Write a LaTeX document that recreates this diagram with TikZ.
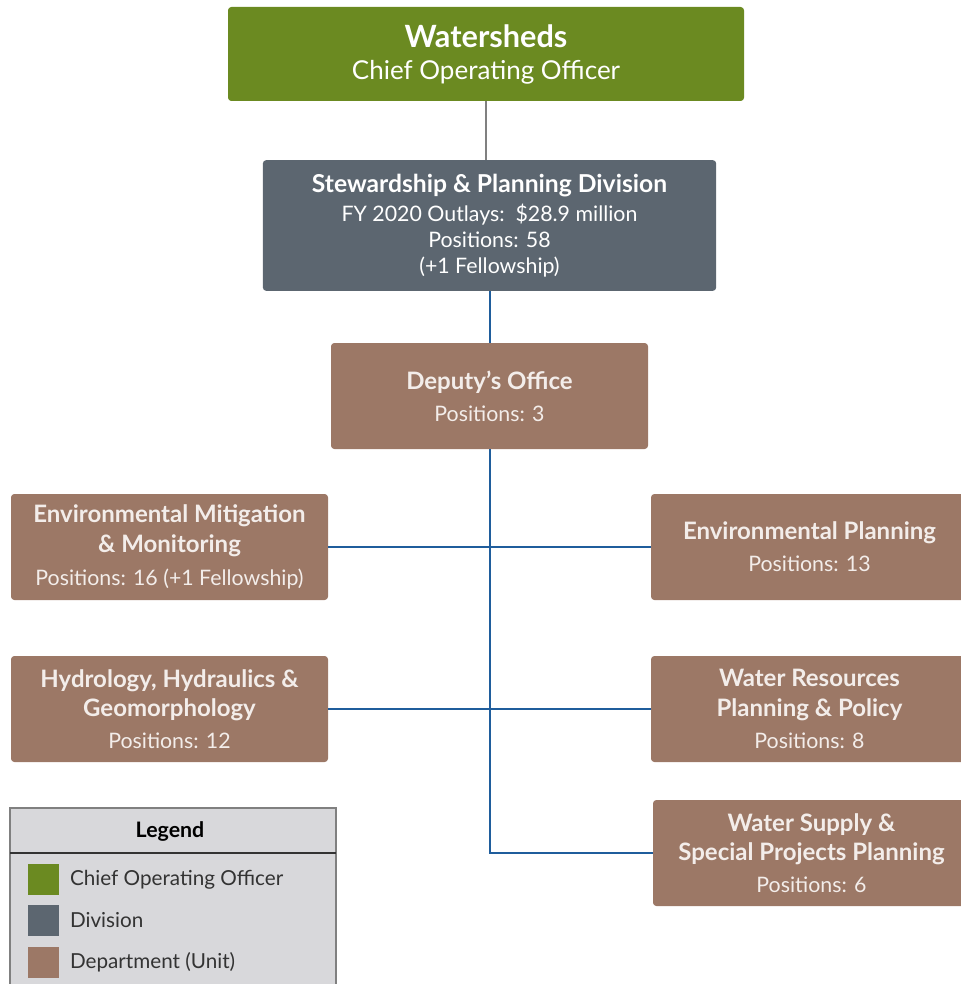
\documentclass[tikz,border=0pt]{standalone}
\usepackage{fontspec}
\setmainfont{Lato}
\usetikzlibrary{positioning}
\definecolor{cooGreen}{HTML}{6B8A21}
\definecolor{divGray}{HTML}{5C6670}
\definecolor{unitBrown}{HTML}{9C7866}
\definecolor{unitText}{HTML}{F3EDEA}
\definecolor{lineBlue}{HTML}{1F5D9C}
\definecolor{legendFill}{HTML}{D8D8DB}
\definecolor{legendText}{HTML}{333333}
\newcommand{\hd}[1]{{\bfseries\fontsize{18}{22}\selectfont #1}}
\tikzset{
  box/.style={rounded corners=2.5pt, align=center, inner sep=0pt,
    font=\fontsize{16}{22}\selectfont},
  coo/.style={box, fill=cooGreen, text=white, minimum width=387pt, minimum height=70.5pt,
    font=\fontsize{19.5}{24}\selectfont},
  division/.style={box, fill=divGray, text=white, minimum width=340pt, minimum height=98pt,
    font=\fontsize{16}{19.5}\selectfont},
  unit/.style={box, fill=unitBrown, text=unitText, minimum width=237.75pt, minimum height=79.5pt},
  link/.style={lineBlue, line width=1.5pt},
  swatch/.style={minimum size=23pt, inner sep=0pt},
  keytext/.style={anchor=west, inner sep=0pt, text=legendText, font=\fontsize{15.5}{18}\selectfont},
}

\begin{document}
\begin{tikzpicture}[x=0.75pt, y=-0.75pt]
    \useasboundingbox (0,0) rectangle (960,984);
    % top of the tree
    \node[coo] (coo) at (486,54)
        {{\bfseries\fontsize{23}{24}\selectfont Watersheds}\\Chief Operating Officer};
    \node[division] (div) at (489.5,225.5)
        {{\bfseries\fontsize{18.5}{22}\selectfont Stewardship \& Planning Division}\\[2pt]
         FY 2020 Outlays:\ \ \$28.9 million\\Positions: 58\\(+1 Fellowship)};
    \node[unit] (dep) at (489.5,396) {\hd{Deputy's Office}\\[2pt]Positions: 3};
    % units
    \node[unit] (envmit) at (169.5,547)
        {\hd{Environmental Mitigation}\\\hd{\& Monitoring}\\[3pt]Positions: 16 (+1 Fellowship)};
    \node[unit] (hydro) at (169.5,709)
        {\hd{Hydrology, Hydraulics \&}\\\hd{Geomorphology}\\[2pt]Positions: 12};
    \node[unit] (envplan) at (809.5,547) {\hd{Environmental Planning}\\[2pt]Positions: 13};
    \node[unit] (watres) at (809.5,709)
        {\hd{Water Resources}\\\hd{Planning \& Policy}\\[2pt]Positions: 8};
    \node[unit] (supply) at (811.5,853)
        {\hd{Water Supply \&}\\\hd{Special Projects Planning}\\[2pt]Positions: 6};
    % connectors
    \draw[gray, line width=1.5pt] (coo.south) -- (coo.south |- div.north);
    \draw[link] (div.south) -- (dep.north);
    \draw[link] (dep.south) -- (dep.south |- supply.west) -- (supply.west);
    \draw[link] (envmit.east) -- (envplan.west);
    \draw[link] (hydro.east) -- (watres.west);
    % legend
    \draw[fill=legendFill, draw=gray, line width=1pt] (10,808) rectangle (336,1000);
    \draw[draw=legendText, line width=1pt] (10,853) -- (336,853);
    \node[font=\bfseries\fontsize{16}{18}\selectfont] (lgd) at (170,831) {Legend};
    \node[swatch, fill=cooGreen] (keycoo) at (43.5,879.5) {};
    \node[swatch, fill=divGray] (keydiv) at (43.5,920.5) {};
    \node[swatch, fill=unitBrown] (keyunit) at (43.5,962.5) {};
    \node[keytext, right=8pt of keycoo] {Chief Operating Officer};
    \node[keytext, right=8pt of keydiv] {Division};
    \node[keytext, right=8pt of keyunit] {Department (Unit)};
\end{tikzpicture}
\end{document}
